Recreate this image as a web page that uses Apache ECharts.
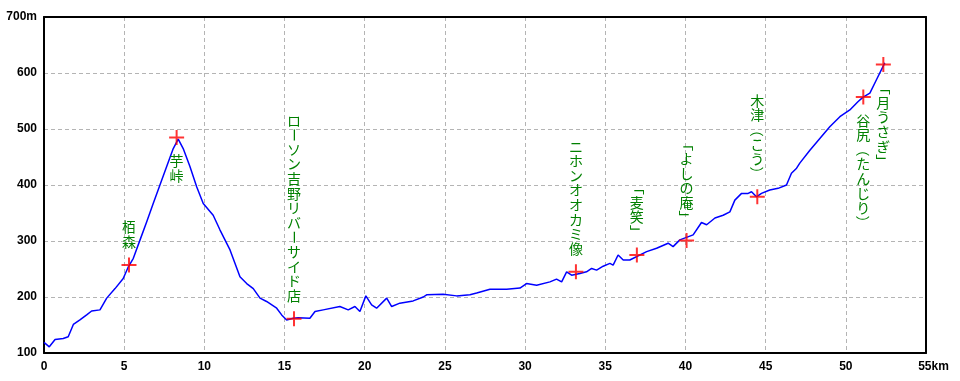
<!DOCTYPE html>
<html>
<head>
<meta charset="utf-8">
<script src="https://cdn.jsdelivr.net/npm/echarts@6/dist/echarts.min.js"></script>
<style>
html,body{margin:0;padding:0;background:#fff;}
#chart{width:960px;height:381px;}
</style>
</head>
<body>
<div id="chart"></div>
<script>
// Elevation profile: distance (km) and elevation (m)
const profileKm = [0.00,0.06,0.33,0.69,1.20,1.51,1.83,2.24,2.66,2.97,3.49,3.91,4.43,4.94,5.26,5.57,5.99,6.40,6.81,7.23,7.65,8.06,8.37,8.68,9.10,9.52,9.93,10.55,10.97,11.60,12.22,12.64,13.05,13.47,13.88,14.51,14.82,15.13,15.54,15.85,16.58,16.90,17.41,18.45,18.97,19.39,19.70,20.07,20.43,20.74,21.37,21.68,22.19,23.02,23.65,23.86,24.89,25.73,26.56,26.98,27.81,28.85,29.68,30.09,30.72,31.55,31.96,32.28,32.59,32.90,33.42,33.83,34.15,34.46,34.87,35.29,35.49,35.80,36.12,36.53,37.58,38.20,38.92,39.23,39.65,40.48,41.00,41.32,41.84,42.35,42.77,43.08,43.50,43.91,44.12,44.43,44.74,45.26,45.78,46.30,46.61,46.93,47.13,47.76,48.38,49.00,49.63,50.25,50.77,51.08,51.50,51.91,52.43];
const profileElev = [119,117,111,124,126,129,151,159,168,175,177,198,215,233,254,269,302,334,367,400,433,465,482,465,433,397,367,346,320,284,236,224,215,198,192,180,168,159,162,163,162,174,177,183,177,183,174,202,186,180,198,183,189,193,200,204,205,202,204,207,214,214,216,224,221,227,232,227,245,239,242,245,251,248,255,260,257,275,266,266,281,287,296,290,302,311,333,329,341,346,352,373,385,385,388,379,385,391,394,400,421,430,439,462,483,504,522,534,549,557,564,588,618];

// Waypoint labels
const labelNames = ['栢森','芋峠','ローソン吉野リバーサイド店','ニホンオオカミ像','「麦笑」','「よしの庵」','木津（こう）','谷尻（たんじり）','「月うさぎ」'];
const labelKm = [5.30,8.27,15.59,33.17,36.97,40.07,44.48,51.09,52.34];
const labelElev = [257,485,161,245,275,301,379,557,615];
const labelPlacement = ['above','below','above','above','above','above','above','below','below'];

// Axis ticks
const xTicks = [0,5,10,15,20,25,30,35,40,45,50,55];
const yTicks = [100,200,300,400,500,600,700];

const chart = echarts.init(document.getElementById('chart'), null, {renderer:'canvas'});

const ROTATE_CHARS = new Set(['ー','「','」','（','）']);
const CELL = 14.6;
const GAP = 16;

const axisFont = {color:'#000', fontFamily:'"Liberation Sans",Arial,sans-serif', fontWeight:'bold', fontSize:12};
const gridLine = {show:true, lineStyle:{color:'#b4b4b4', type:[4,3], width:1}};
const frameLine = {show:true,onZero:false,lineStyle:{color:'#000',width:2}};
const xMin = xTicks[0], xMax = xTicks[xTicks.length-1];
const yMin = yTicks[0], yMax = yTicks[yTicks.length-1];

chart.setOption({
  animation:false,
  backgroundColor:'#fff',
  grid:{left:44,right:34,top:17,bottom:28},
  xAxis:[{
    type:'value', min:xMin, max:xMax, interval:5,
    axisLine:frameLine,
    axisTick:{show:false},
    splitLine:gridLine,
    axisLabel:Object.assign({margin:8,
      formatter:function(v){ return v===xMax ? '{p|}'+v+'{u|km}' : String(v); },
      rich:{p:{width:15}, u:Object.assign({},axisFont)}
    },axisFont)
  },{
    type:'value', position:'top', min:xMin, max:xMax, interval:5,
    axisLine:frameLine, axisTick:{show:false}, axisLabel:{show:false}, splitLine:{show:false}
  }],
  yAxis:[{
    type:'value', min:yMin, max:yMax, interval:100,
    axisLine:frameLine,
    axisTick:{show:false},
    splitLine:gridLine,
    axisLabel:Object.assign({margin:7,
      formatter:function(v){ return v===yMax ? v+'m' : String(v); }
    },axisFont)
  },{
    type:'value', position:'right', min:yMin, max:yMax, interval:100,
    axisLine:frameLine, axisTick:{show:false}, axisLabel:{show:false}, splitLine:{show:false}
  }],
  series:[
    {
      type:'line',
      data:profileKm.map((k,i)=>[k,profileElev[i]]),
      showSymbol:false,
      lineStyle:{color:'#0000ff',width:1.5},
      z:2
    },
    {
      type:'scatter',
      data:labelKm.map((k,i)=>[k,labelElev[i]]),
      symbol:'path://M0,6.5h15v2h-15z M6.5,0h2v15h-2z',
      symbolSize:15,
      itemStyle:{color:'#ff0000'},
      z:4
    },
    {
      type:'custom',
      data:labelKm.map((k,i)=>[k,labelElev[i],i]),
      clip:false,
      z:3,
      renderItem:function(params, api){
        const p = api.coord([api.value(0), api.value(1)]);
        const idx = api.value(2);
        const chars = Array.from(labelNames[idx]);
        const top = labelPlacement[idx]==='above' ? p[1]-GAP-chars.length*CELL : p[1]+GAP;
        return {
          type:'group',
          children: chars.map((c,i)=>({
            type:'text',
            x:p[0], y:top+CELL*i+CELL/2,
            rotation: ROTATE_CHARS.has(c) ? -Math.PI/2 : 0,
            style:{text:c, fill:'#008000', font:'14px "Noto Sans CJK JP"', align:'center', verticalAlign:'middle'}
          }))
        };
      }
    }
  ]
});
</script>
</body>
</html>
